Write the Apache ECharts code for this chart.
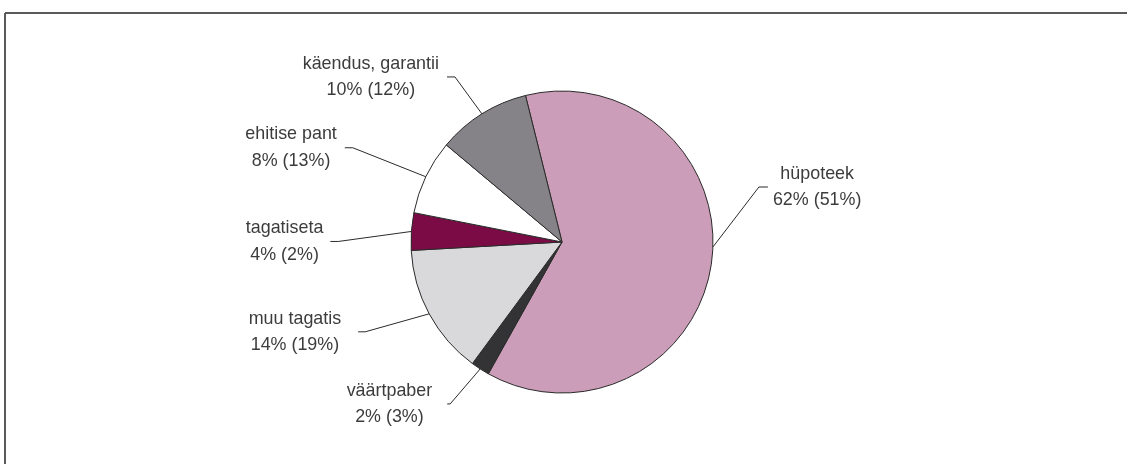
<!DOCTYPE html>
<html>
<head>
<meta charset="utf-8">
<script src="https://cdn.jsdelivr.net/npm/echarts@6/dist/echarts.min.js"></script>
<style>
  html, body { margin: 0; padding: 0; background: #fff; }
  #chart { width: 1127px; height: 464px; }
</style>
</head>
<body>
<div id="chart"></div>
<script>
// andmed
var categories = ['hüpoteek', 'väärtpaber', 'muu tagatis', 'tagatiseta', 'ehitise pant', 'käendus, garantii'];
var shares = [62, 2, 14, 4, 8, 10];
var prevShares = [51, 3, 19, 2, 13, 12];
var colors = ['#cb9db8', '#333335', '#d9d9db', '#7a0b44', '#ffffff', '#858387'];

// pie geometry
var CX = 562, CY = 242, R = 151;

// label leader placement: elbow offset from slice edge, horizontal length, gap to text, anchor turn (deg)
var labelPos = [
  { dx: 46, dy: -60, len: 9, gap: 5, turn: -5.7 },
  { dx: -30, dy: 35, len: 3, gap: 15, turn: 0 },
  { dx: -64, dy: 18, len: 7, gap: 17, turn: 0 },
  { dx: -73, dy: 10, len: 8, gap: 7, turn: 0 },
  { dx: -73, dy: -29, len: 8, gap: 8, turn: 0 },
  { dx: -27, dy: -37, len: 8, gap: 8, turn: 0 }
];

var chart = echarts.init(document.getElementById('chart'));

chart.setOption({
  animation: false,
  backgroundColor: '#fff',
  graphic: [
    { type: 'line', shape: { x1: 5, y1: 13, x2: 1127, y2: 13 }, style: { stroke: '#5a5a5a', lineWidth: 2 } },
    { type: 'line', shape: { x1: 5, y1: 13, x2: 5, y2: 464 }, style: { stroke: '#5a5a5a', lineWidth: 2 } }
  ],
  series: [{
    type: 'pie',
    center: [CX, CY],
    radius: R,
    startAngle: 104,
    clockwise: true,
    avoidLabelOverlap: false,
    data: categories.map(function (c, i) {
      return { name: c, value: shares[i], itemStyle: { color: colors[i] } };
    }),
    itemStyle: { borderColor: '#2b2b2b', borderWidth: 1 },
    label: {
      show: true,
      position: 'outside',
      alignTo: 'none',
      fontFamily: 'Liberation Sans, Arial, sans-serif',
      fontSize: 17.9,
      lineHeight: 26.5,
      color: '#3c3c3c',
      formatter: function (p) {
        return p.name + '\n' + p.value + '% (' + prevShares[p.dataIndex] + '%)';
      }
    },
    labelLine: {
      show: true,
      length: 10,
      length2: 10,
      lineStyle: { color: '#2b2b2b', width: 1 }
    },
    emphasis: { disabled: true },
    labelLayout: function (p) {
      var cfg = labelPos[p.dataIndex];
      var pts = p.labelLinePoints;
      var x0 = pts[0][0], y0 = pts[0][1];
      if (cfg.turn) {
        var a = Math.atan2(y0 - CY, x0 - CX) + cfg.turn * Math.PI / 180;
        x0 = CX + R * Math.cos(a);
        y0 = CY + R * Math.sin(a);
      }
      var ex = x0 + cfg.dx, ey = y0 + cfg.dy;
      var side = cfg.dx > 0 ? 1 : -1;
      var lx = ex + side * cfg.len;
      var w = p.labelRect.width;
      return {
        x: lx + side * (cfg.gap + w / 2),
        y: ey,
        align: 'center',
        verticalAlign: 'middle',
        labelLinePoints: [[x0, y0], [ex, ey], [lx, ey]]
      };
    }
  }]
});
</script>
</body>
</html>
